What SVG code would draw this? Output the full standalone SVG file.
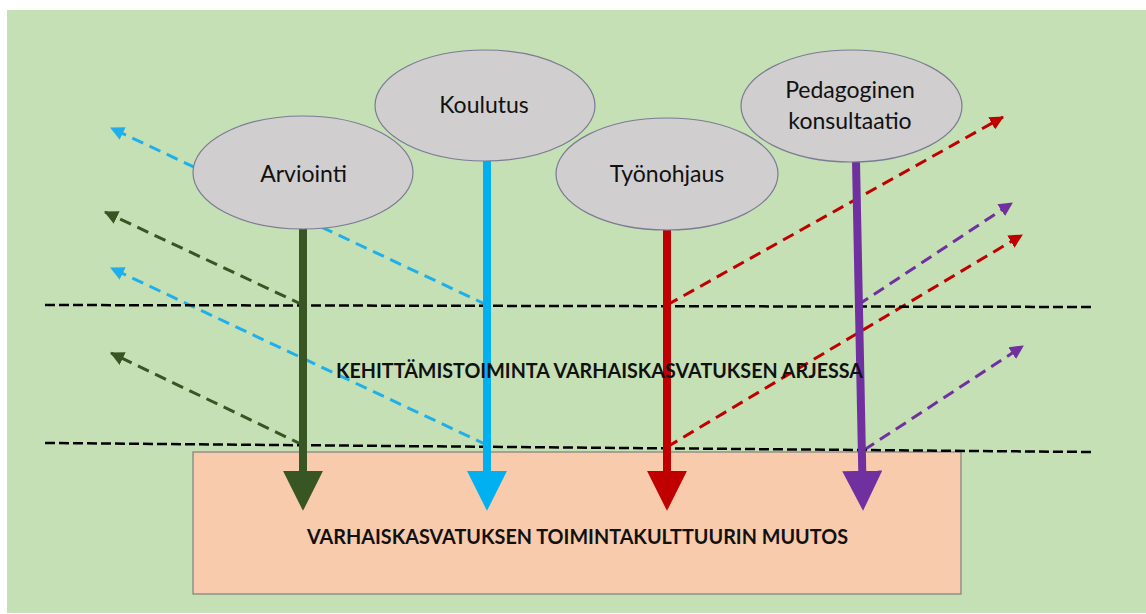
<svg xmlns="http://www.w3.org/2000/svg" width="1146" height="614" viewBox="0 0 1146 614">
<style>
.node ellipse{fill:#d0cece;stroke:#7b7b95;stroke-width:1.2}
.lbl{font-family:Lato,"Open Sans","Liberation Sans",sans-serif;font-size:23px;fill:#111;text-anchor:middle}
.bold{font-family:Lato,"Open Sans","Liberation Sans",sans-serif;font-size:20.5px;font-weight:bold;fill:#111}
.hdash{stroke:#000;stroke-width:2.5;stroke-dasharray:10 4;fill:none}
.ddash{stroke-width:3;stroke-dasharray:12 7;fill:none}
.main{stroke-width:8;fill:none}
</style>
<defs>
<marker id="hG" markerUnits="userSpaceOnUse" markerWidth="40" markerHeight="40" viewBox="0 0 37 37" refX="2" refY="18.5" orient="auto"><path d="M0,0 L37,18.5 L0,37 z" fill="#375623"/></marker>
<marker id="hB" markerUnits="userSpaceOnUse" markerWidth="40" markerHeight="40" viewBox="0 0 37 37" refX="2" refY="18.5" orient="auto"><path d="M0,0 L37,18.5 L0,37 z" fill="#00b0f0"/></marker>
<marker id="hR" markerUnits="userSpaceOnUse" markerWidth="40" markerHeight="40" viewBox="0 0 37 37" refX="2" refY="18.5" orient="auto"><path d="M0,0 L37,18.5 L0,37 z" fill="#c00000"/></marker>
<marker id="hP" markerUnits="userSpaceOnUse" markerWidth="40" markerHeight="40" viewBox="0 0 37 37" refX="2" refY="18.5" orient="auto"><path d="M0,0 L37,18.5 L0,37 z" fill="#7030a0"/></marker>
<marker id="sG" markerUnits="userSpaceOnUse" markerWidth="14" markerHeight="14" viewBox="0 0 13 13" refX="12" refY="6.5" orient="auto"><path d="M0,0 L13,6.5 L0,13 z" fill="#375623"/></marker>
<marker id="sB" markerUnits="userSpaceOnUse" markerWidth="14" markerHeight="14" viewBox="0 0 13 13" refX="12" refY="6.5" orient="auto"><path d="M0,0 L13,6.5 L0,13 z" fill="#1fb0ec"/></marker>
<marker id="sR" markerUnits="userSpaceOnUse" markerWidth="14" markerHeight="14" viewBox="0 0 13 13" refX="12" refY="6.5" orient="auto"><path d="M0,0 L13,6.5 L0,13 z" fill="#c00000"/></marker>
<marker id="sP" markerUnits="userSpaceOnUse" markerWidth="14" markerHeight="14" viewBox="0 0 13 13" refX="12" refY="6.5" orient="auto"><path d="M0,0 L13,6.5 L0,13 z" fill="#7030a0"/></marker>
</defs>
<rect x="0" y="0" width="1146" height="614" fill="#ffffff"/>
<rect x="7" y="10" width="1139" height="603" fill="#c5e0b4"/>
<g id="result">
<rect x="193" y="452" width="768" height="142" fill="#f8cbad" stroke="#7f7f7f" stroke-width="1.2"/>
<text class="bold" x="307" y="544" textLength="541" lengthAdjust="spacingAndGlyphs">VARHAISKASVATUKSEN TOIMINTAKULTTUURIN MUUTOS</text>
</g>
<g id="connectors">
<line class="ddash" stroke="#1fb0ec" x1="487" y1="305" x2="111" y2="128" marker-end="url(#sB)"/>
<line class="ddash" stroke="#375623" x1="303" y1="305" x2="105" y2="212" marker-end="url(#sG)"/>
<line class="ddash" stroke="#1fb0ec" x1="487" y1="445" x2="111" y2="268" marker-end="url(#sB)"/>
<line class="ddash" stroke="#375623" x1="303" y1="445" x2="111" y2="353" marker-end="url(#sG)"/>
<line class="ddash" stroke="#c00000" x1="667" y1="305" x2="1003" y2="117" marker-end="url(#sR)"/>
<line class="ddash" stroke="#7030a0" x1="858" y1="305" x2="1012" y2="203" marker-end="url(#sP)"/>
<line class="ddash" stroke="#c00000" x1="667" y1="447" x2="1022" y2="235" marker-end="url(#sR)"/>
<line class="ddash" stroke="#7030a0" x1="864" y1="450" x2="1023" y2="346" marker-end="url(#sP)"/>
<line class="hdash" x1="45" y1="305" x2="1092" y2="307"/>
<line class="hdash" x1="45" y1="443" x2="1092" y2="452"/>
<line class="main" stroke="#375623" x1="303" y1="228" x2="303" y2="473" marker-end="url(#hG)"/>
<line class="main" stroke="#00b0f0" x1="487" y1="160" x2="487" y2="473" marker-end="url(#hB)"/>
<line class="main" stroke="#c00000" x1="667" y1="229" x2="667" y2="473" marker-end="url(#hR)"/>
<line class="main" stroke="#7030a0" x1="856" y1="161" x2="862.3" y2="473" marker-end="url(#hP)"/>
</g>
<g id="arvointi" class="node">
<ellipse cx="303" cy="172.5" rx="110" ry="56.5"/>
<text class="lbl" x="303.5" y="182">Arviointi</text>
</g>
<g id="koulutus" class="node">
<ellipse cx="485" cy="105.5" rx="110" ry="55.5"/>
<text class="lbl" x="484" y="113">Koulutus</text>
</g>
<g id="tyonohjaus" class="node">
<ellipse cx="667" cy="174" rx="111" ry="56"/>
<text class="lbl" x="667" y="182">Työnohjaus</text>
</g>
<g id="pedagoginen" class="node">
<ellipse cx="851.5" cy="106" rx="110.5" ry="56"/>
<text class="lbl" x="850" y="98">Pedagoginen</text>
<text class="lbl" x="850" y="129">konsultaatio</text>
</g>
<g id="context">
<text class="bold" x="336" y="378" textLength="527" lengthAdjust="spacingAndGlyphs">KEHITTÄMISTOIMINTA VARHAISKASVATUKSEN ARJESSA</text>
</g>
</svg>
